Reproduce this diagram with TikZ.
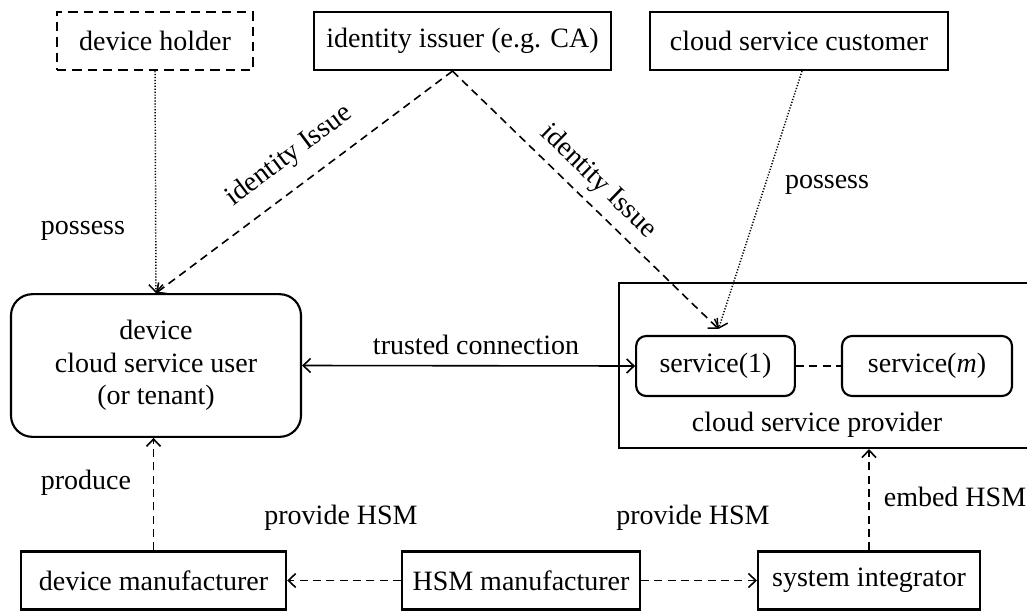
\documentclass[tikz,border=0pt]{standalone}
\usepackage{fontspec}
\setmainfont{Liberation Serif}
\usetikzlibrary{arrows.meta, calc}

\begin{document}
\begin{tikzpicture}[x=0.75pt, y=-0.75pt,
    font=\fontsize{21}{24.4}\selectfont,
    >={Straight Barb[length=5.5pt,width=10.5pt]},
    box/.style={draw, line width=1.6pt, minimum height=43.5pt, inner sep=2pt},
    rbox/.style={box, rounded corners=7.5pt, minimum height=45pt},
    link/.style={line width=1.2pt, dash pattern=on 6pt off 4pt},
    dots/.style={line width=1.1pt, dash pattern=on 0.9pt off 1.3pt}]

        \useasboundingbox (0,0) rectangle (1027,610);

        % Parties on top
        \node[box, dash pattern=on 7pt off 4.5pt, minimum width=147pt] (holder) at (155,41) {device holder};
        \node[box, minimum width=222.75pt] (issuer) at (462.5,41) {identity issuer (e.g. CA)};
        \node[box, minimum width=223.5pt] (customer) at (799,41) {cloud service customer};

        % Device and cloud side
        \node[box, rounded corners=16pt, align=center, minimum width=217.5pt, minimum height=107pt] (device) at (156,365.5)
            {device\\cloud service user\\(or tenant)};
        \node[box, minimum width=312pt, minimum height=123.75pt] (provider) at (827,365.5) {};
        \node[rbox, minimum width=119pt] (s1) at (715.5,366) {service(1)};
        \node[rbox, minimum width=127.5pt] (sm) at (927,366) {service(\textit{m})};
        \node (provlabel) at (817,425) {cloud service provider};

        % Makers at the bottom
        \node[box, minimum width=199pt] (devman) at (153.5,580.5) {device manufacturer};
        \node[box, minimum width=178.5pt] (hsm) at (521,580.5) {HSM manufacturer};
        \node[box, minimum width=166.5pt] (sysint) at (869,580.5) {system integrator};

        % Relations
        \coordinate (iss) at ($(issuer.south)+(-10,0)$);
        \coordinate (meet) at ($(s1.north)+(3,-6)$);

        \draw[dots, ->] (holder.south) -- (device.north);
        \node (possess1) at (83,231) {possess};
        \draw[link, ->] (iss) -- (device.north) node[pos=0.49, sloped, above=9pt] {identity Issue};
        \draw[link, ->] (iss) -- (meet) node[pos=0.49, sloped, above=3pt] {identity Issue};
        \draw[dots, ->] ($(customer.south)+(3,0)$) -- (meet);
        \node (possess2) at (827,185) {possess};

        \draw[<->, line width=1.2pt] (device.east) -- (s1.west);
        \node (trusted) at (476,345) {trusted connection};
        \draw[link] (s1.east) -- (sm.west);

        \draw[link, ->] (devman.north) -- (devman.north |- device.south);
        \node (produce) at (86,483) {produce};
        \draw[link, ->] (hsm.west) -- (devman.east);
        \node (provide1) at (341,518) {provide HSM};
        \draw[link, ->] (hsm.east) -- (sysint.west);
        \node (provide2) at (693,518) {provide HSM};
        \draw[link, ->] (sysint.north) -- (sysint.north |- provider.south);
        \node (embed) at (955,497) {embed HSM};
      \end{tikzpicture}
\end{document}
